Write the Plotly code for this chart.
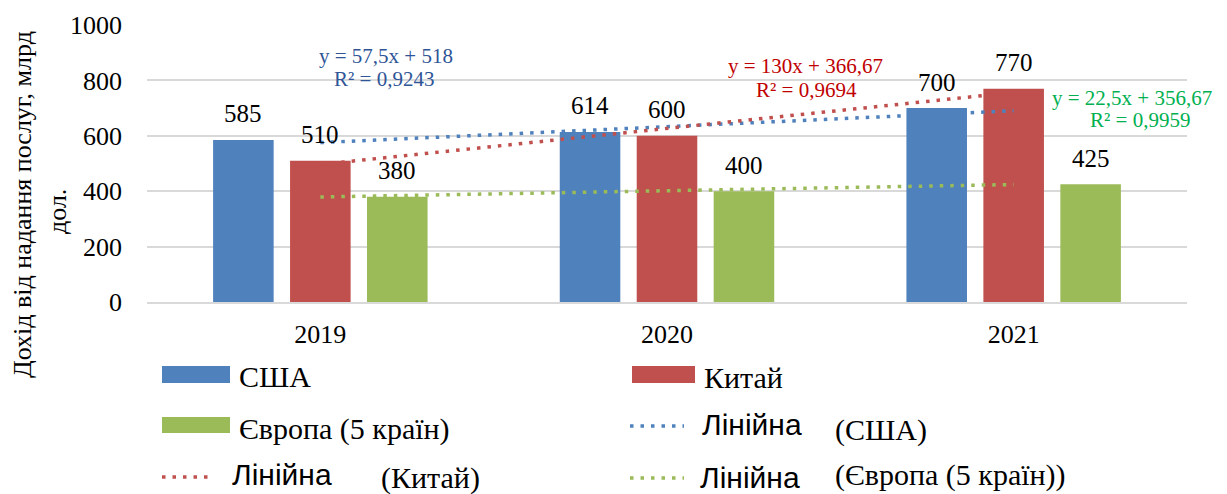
import plotly.graph_objects as go

# ---------------- data ----------------
years = ["2019", "2020", "2021"]
usa = [585, 614, 700]
china = [510, 600, 770]
europe = [380, 400, 425]
usa_trend = [575.5, 633.0, 690.5]
china_trend = [496.67, 626.67, 756.67]
europe_trend = [379.17, 401.67, 424.17]
y_ticks = [0, 200, 400, 600, 800, 1000]
eq_usa = ["y = 57,5x + 518", "R² = 0,9243"]
eq_china = ["y = 130x + 366,67", "R² = 0,9694"]
eq_europe = ["y = 22,5x + 356,67", "R² = 0,9959"]
series_names = ["США", "Китай", "Європа (5 країн)"]
trend_word = "Лінійна"
trend_names = ["(США)", "(Китай)", "(Європа (5 країн))"]
y_title = ["Дохід від надання послуг, млрд", "дол."]

# ---------------- style ----------------
C_BLUE, C_RED, C_GREEN = "#4F81BD", "#C0504D", "#9BBB59"
T_BLUE, T_RED, T_GREEN = "#2F5597", "#C00000", "#00B050"
SERIF = "Liberation Serif, Times New Roman, serif"
SANS = "Liberation Sans, Arial, sans-serif"
W, H = 1227, 494
L, R, T, B = 147, 40, 25, 192
PW, PH = W - L - R, H - T - B
BARGAP, GROUPGAP = 0.334, 0.213
slot = (1 - BARGAP) / 3
DOT = "3.5px,7px"
DOT_W = 3.5


def px(x):
    return (x - L) / PW


def py(y):
    return (H - B - y) / PH


fig = go.Figure()
for name, vals, col in zip(series_names, [usa, china, europe], [C_BLUE, C_RED, C_GREEN]):
    fig.add_trace(go.Bar(x=years, y=vals, name=name, marker=dict(color=col, line=dict(width=0))))
for name, vals, col in zip(trend_names, [usa_trend, china_trend, europe_trend], [C_BLUE, C_RED, C_GREEN]):
    fig.add_trace(go.Scatter(x=years, y=vals, mode="lines", name=trend_word + " " + name,
                             line=dict(color=col, width=DOT_W, dash=DOT)))

ann = []
# value labels above bars
for k, vals in enumerate([usa, china, europe]):
    for i, v in enumerate(vals):
        ann.append(dict(x=i + (k - 1) * slot, y=v, xref="x", yref="y", text=str(v), showarrow=False,
                        yanchor="middle", yshift=26, font=dict(family=SERIF, size=25, color="#000")))

# trend equations
for lines, col, pos in [
    (eq_usa, T_BLUE, [(386, 56), (384, 79)]),
    (eq_china, T_RED, [(805, 66), (806, 90)]),
    (eq_europe, T_GREEN, [(1132, 98), (1140, 120)]),
]:
    for txt, (x, y) in zip(lines, pos):
        ann.append(dict(x=px(x), y=py(y), xref="paper", yref="paper", text=txt, showarrow=False,
                        xanchor="center", yanchor="middle", font=dict(family=SERIF, size=21, color=col)))

# y-axis title (two lines)
ann.append(dict(x=px(22), y=py(205), xref="paper", yref="paper", text=y_title[0], textangle=-90,
                showarrow=False, xanchor="center", yanchor="middle",
                font=dict(family=SERIF, size=26, color="#000")))
ann.append(dict(x=px(57), y=py(212), xref="paper", yref="paper", text=y_title[1], textangle=-90,
                showarrow=False, xanchor="center", yanchor="middle",
                font=dict(family=SERIF, size=26, color="#000")))

shapes = []
# legend: bar swatches
for (x0, x1, y0, y1), col in [((162, 230, 366, 383), C_BLUE), ((632, 695, 366, 383), C_RED),
                              ((162, 230, 417, 433), C_GREEN)]:
    shapes.append(dict(type="rect", xref="paper", yref="paper", x0=px(x0), x1=px(x1), y0=py(y1), y1=py(y0),
                       fillcolor=col, line=dict(width=0)))
# legend: line swatches
for (x0, x1, y), col in [((630, 684, 426), C_BLUE), ((162, 210, 477), C_RED), ((630, 684, 478), C_GREEN)]:
    shapes.append(dict(type="line", xref="paper", yref="paper", x0=px(x0), x1=px(x1), y0=py(y), y1=py(y),
                       line=dict(color=col, width=DOT_W, dash=DOT)))

# legend texts
leg = [
    (series_names[0], 237, 376, SERIF, 30),
    (series_names[1], 702, 377, SERIF, 30),
    (series_names[2], 237, 429, SERIF, 30),
    (trend_word, 700, 424, SANS, 30),
    (trend_names[0], 833, 430, SERIF, 30),
    (trend_word, 230, 474, SANS, 30),
    (trend_names[1], 379, 478, SERIF, 30),
    (trend_word, 698, 477, SANS, 30),
    (trend_names[2], 833, 475, SERIF, 30),
]
for txt, x, y, fam, sz in leg:
    ann.append(dict(x=px(x), y=py(y), xref="paper", yref="paper", text=txt, showarrow=False,
                    xanchor="left", yanchor="middle", font=dict(family=fam, size=sz, color="#000")))

fig.update_layout(
    width=W, height=H,
    margin=dict(l=L, r=R, t=T, b=B, pad=0),
    paper_bgcolor="white", plot_bgcolor="white",
    barmode="group", bargap=BARGAP, bargroupgap=GROUPGAP,
    showlegend=False,
    annotations=ann, shapes=shapes,
    xaxis=dict(type="category", showgrid=False, showline=True, linecolor="#D9D9D9", linewidth=1.5,
               ticks="", tickfont=dict(family=SERIF, size=26, color="#000"), ticklabelstandoff=8,
               range=[-0.5, 2.5], zeroline=False),
    yaxis=dict(range=[0, 1000], tickvals=y_ticks, showgrid=True, gridcolor="#D9D9D9", gridwidth=1.5,
               zeroline=False, showline=False, ticks="",
               tickfont=dict(family=SERIF, size=26, color="#000"), ticklabelstandoff=24),
)

fig.write_html("out.html", config={"displayModeBar": False},
               post_script="document.body.style.margin='0px';document.body.style.overflow='hidden';")
